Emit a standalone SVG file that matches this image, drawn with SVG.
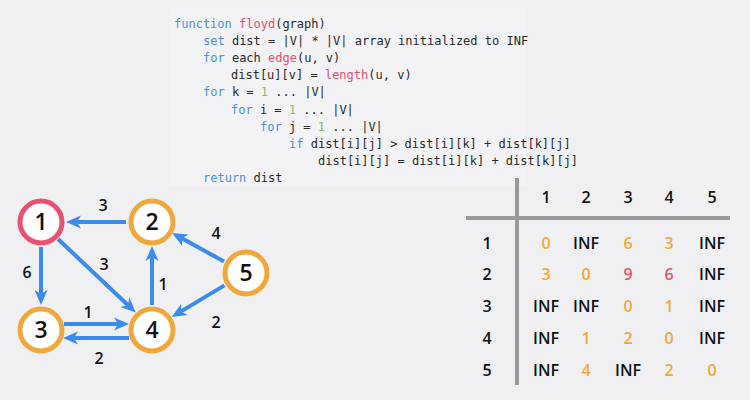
<svg xmlns="http://www.w3.org/2000/svg" width="750" height="400" viewBox="0 0 750 400">
<style>
.code{font-family:"DejaVu Sans Mono","Liberation Mono",monospace;font-size:12px;fill:#2a2a2a}
.kw{fill:#4a90e2}.fn{fill:#e0506e}.num{fill:#7dc36b}
.lbl{font-family:"Open Sans","DejaVu Sans",sans-serif;font-weight:600;font-size:16px;fill:#111;text-anchor:middle}
.nodec{fill:#fff;stroke-width:5}
.nt{font-family:"Open Sans","DejaVu Sans",sans-serif;font-weight:600;font-size:23px;fill:#111;text-anchor:middle}
.edge{stroke:#3b8ced;stroke-width:4;fill:none;marker-end:url(#ah)}
.tb{font-family:"Open Sans","DejaVu Sans",sans-serif;font-weight:600;font-size:16px;fill:#111;text-anchor:middle}
.o{fill:#f0a83c}.r{fill:#e8526e}
.grid{stroke:#999;stroke-width:4}
</style>
<defs>
<marker id="ah" markerUnits="userSpaceOnUse" markerWidth="15" markerHeight="15" viewBox="0 0 15 15" refX="4" refY="7.5" orient="auto">
<path d="M0,1 L15,7.5 L0,14 L4,7.5 z" fill="#3b8ced"/>
</marker>
</defs>
<rect width="750" height="400" fill="#f0f0f2"/>
<rect x="170" y="8" width="356" height="178" fill="#f3f3f5"/>
<g id="code" class="code">
<text x="174" y="27.5"><tspan class="kw">function</tspan> <tspan class="fn">floyd</tspan>(graph)</text>
<text x="203" y="44.7"><tspan class="kw">set</tspan> dist = |V| * |V| array initialized to INF</text>
<text x="203" y="61.9"><tspan class="kw">for</tspan> each <tspan class="fn">edge</tspan>(u, v)</text>
<text x="231" y="79.1">dist[u][v] = <tspan class="fn">length</tspan>(u, v)</text>
<text x="203" y="96.3"><tspan class="kw">for</tspan> k = <tspan class="num">1</tspan> ... |V|</text>
<text x="231" y="113.5"><tspan class="kw">for</tspan> i = <tspan class="num">1</tspan> ... |V|</text>
<text x="260" y="130.7"><tspan class="kw">for</tspan> j = <tspan class="num">1</tspan> ... |V|</text>
<text x="289" y="147.9"><tspan class="kw">if</tspan> dist[i][j] &gt; dist[i][k] + dist[k][j]</text>
<text x="318" y="165.1">dist[i][j] = dist[i][k] + dist[k][j]</text>
<text x="203" y="181.5"><tspan class="kw">return</tspan> dist</text>
</g>
<g id="connectors">
<line class="edge" x1="126" y1="222" x2="77" y2="222"/>
<line class="edge" x1="41" y1="247" x2="41" y2="294"/>
<line class="edge" x1="58" y1="239" x2="127.8" y2="305"/>
<line class="edge" x1="152" y1="305" x2="152" y2="257"/>
<line class="edge" x1="224" y1="261.5" x2="181.8" y2="238.3"/>
<line class="edge" x1="224.5" y1="285.4" x2="181.1" y2="311.4"/>
<line class="edge" x1="64" y1="324" x2="118" y2="324"/>
<line class="edge" x1="129" y1="338" x2="74" y2="338"/>
<text class="lbl" x="103" y="211">3</text>
<text class="lbl" x="27" y="278">6</text>
<text class="lbl" x="104" y="270">3</text>
<text class="lbl" x="163" y="290">1</text>
<text class="lbl" x="216" y="239">4</text>
<text class="lbl" x="216" y="328">2</text>
<text class="lbl" x="88" y="318">1</text>
<text class="lbl" x="99" y="364">2</text>
</g>
<g id="node1"><circle class="nodec" cx="41" cy="222" r="21" stroke="#e8526e"/><text class="nt" x="41" y="230">1</text></g>
<g id="node2"><circle class="nodec" cx="152" cy="222" r="21" stroke="#f0a83c"/><text class="nt" x="152" y="230">2</text></g>
<g id="node3"><circle class="nodec" cx="41" cy="330" r="21" stroke="#f0a83c"/><text class="nt" x="41" y="338">3</text></g>
<g id="node4"><circle class="nodec" cx="152" cy="330" r="21" stroke="#f0a83c"/><text class="nt" x="152" y="338">4</text></g>
<g id="node5"><circle class="nodec" cx="246" cy="273" r="21" stroke="#f0a83c"/><text class="nt" x="246" y="281">5</text></g>
<g id="table">
<line class="grid" x1="517" y1="178" x2="517" y2="385"/>
<line class="grid" x1="466" y1="218" x2="730" y2="218"/>
<g class="tb">
<text x="546" y="203">1</text><text x="586" y="203">2</text><text x="628" y="203">3</text><text x="669" y="203">4</text><text x="712" y="203">5</text>
<text x="487" y="249">1</text><text x="487" y="280">2</text><text x="487" y="312">3</text><text x="487" y="344">4</text><text x="487" y="376">5</text>
<text x="546" y="249" class="o">0</text><text x="586" y="249">INF</text><text x="628" y="249" class="o">6</text><text x="669" y="249" class="o">3</text><text x="712" y="249">INF</text>
<text x="546" y="280" class="o">3</text><text x="586" y="280" class="o">0</text><text x="628" y="280" class="r">9</text><text x="669" y="280" class="r">6</text><text x="712" y="280">INF</text>
<text x="546" y="312">INF</text><text x="586" y="312">INF</text><text x="628" y="312" class="o">0</text><text x="669" y="312" class="o">1</text><text x="712" y="312">INF</text>
<text x="546" y="344">INF</text><text x="586" y="344" class="o">1</text><text x="628" y="344" class="o">2</text><text x="669" y="344" class="o">0</text><text x="712" y="344">INF</text>
<text x="546" y="376">INF</text><text x="586" y="376" class="o">4</text><text x="628" y="376">INF</text><text x="669" y="376" class="o">2</text><text x="712" y="376" class="o">0</text>
</g>
</g>
</svg>
